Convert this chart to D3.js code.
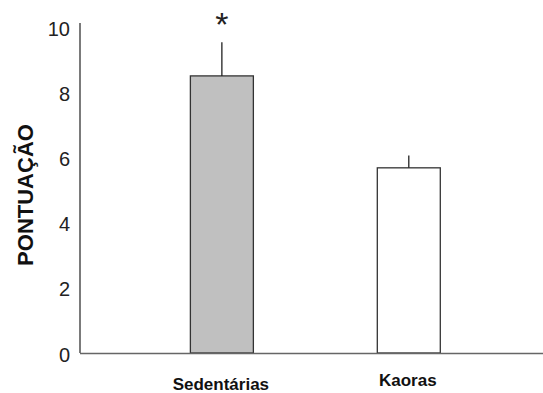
<!DOCTYPE html>
<html>
<head>
<meta charset="utf-8">
<script src="https://cdn.jsdelivr.net/npm/d3@7"></script>
<style>
  html, body { margin: 0; padding: 0; background: #fff; }
  svg { display: block; font-family: "Liberation Sans", Arial, sans-serif; }
</style>
</head>
<body>
<svg id="chart" width="543" height="393"></svg>
<script>
const categories = ["Sedentárias", "Kaoras"];
const values = [8.5, 5.68];
const errors = [1.03, 0.38];
const fills = ["#c0c0c0", "#ffffff"];
const significance = ["*", ""];
const yTicks = [0, 2, 4, 6, 8, 10];
const yTitle = "PONTUAÇÃO";

const svg = d3.select("#chart");
const x0 = 80, x1 = 543, yBase = 353, yTop = 27;

const x = d3.scaleBand().domain(categories).range([x0, x1])
  .paddingInner(0.663).paddingOuter(0.57).align(0.518);
const y = d3.scaleLinear().domain([0, 10]).range([yBase, yTop]);

// y axis
const yAxis = d3.axisLeft(y).tickValues(yTicks).tickSize(0).tickPadding(10).tickFormat(d3.format("d"));
const gy = svg.append("g").attr("transform", `translate(${x0},0)`).call(yAxis);
gy.attr("font-size", 20);
gy.select(".domain").remove();
gy.selectAll("text").attr("font-size", 20).attr("fill", "#222")
  .attr("font-family", "Liberation Sans, Arial, sans-serif").attr("dy", "0.4em");
gy.append("line").attr("x1", 0).attr("x2", 0).attr("y1", y(0)).attr("y2", y(10) - 4)
  .attr("stroke", "#333").attr("stroke-width", 1.3);

// bars
svg.selectAll("rect.bar").data(categories).join("rect")
  .attr("class", "bar")
  .attr("x", d => x(d))
  .attr("width", x.bandwidth())
  .attr("y", (d, i) => y(values[i]))
  .attr("height", (d, i) => y(0) - y(values[i]))
  .attr("fill", (d, i) => fills[i])
  .attr("stroke", "#333").attr("stroke-width", 1.3);

// error bars (upper only)
svg.selectAll("line.err").data(categories).join("line")
  .attr("class", "err")
  .attr("x1", d => x(d) + x.bandwidth() / 2)
  .attr("x2", d => x(d) + x.bandwidth() / 2)
  .attr("y1", (d, i) => y(values[i]))
  .attr("y2", (d, i) => y(values[i] + errors[i]))
  .attr("stroke", "#222").attr("stroke-width", 1.3);

// significance
svg.selectAll("text.sig").data(categories).join("text")
  .attr("class", "sig")
  .attr("x", d => x(d) + x.bandwidth() / 2)
  .attr("y", (d, i) => y(values[i] + errors[i]) - 6)
  .attr("text-anchor", "middle")
  .attr("font-size", 34)
  .attr("fill", "#222")
  .text((d, i) => significance[i]);

// x axis line
svg.append("line").attr("x1", x0).attr("x2", x1).attr("y1", yBase + 0.5).attr("y2", yBase + 0.5)
  .attr("stroke", "#666").attr("stroke-width", 1.5);

// category labels
const labelY = [390, 386];
svg.selectAll("text.cat").data(categories).join("text")
  .attr("class", "cat")
  .attr("x", d => x(d) + x.bandwidth() / 2 - 1)
  .attr("y", (d, i) => labelY[i])
  .attr("text-anchor", "middle")
  .attr("font-size", 17)
  .attr("font-weight", "bold")
  .attr("fill", "#111")
  .text(d => d);

// y title
svg.append("text")
  .attr("transform", "translate(33,195) rotate(-90)")
  .attr("text-anchor", "middle")
  .attr("font-size", 22)
  .attr("font-weight", "bold")
  .attr("fill", "#111")
  .text(yTitle);
</script>
</body>
</html>
